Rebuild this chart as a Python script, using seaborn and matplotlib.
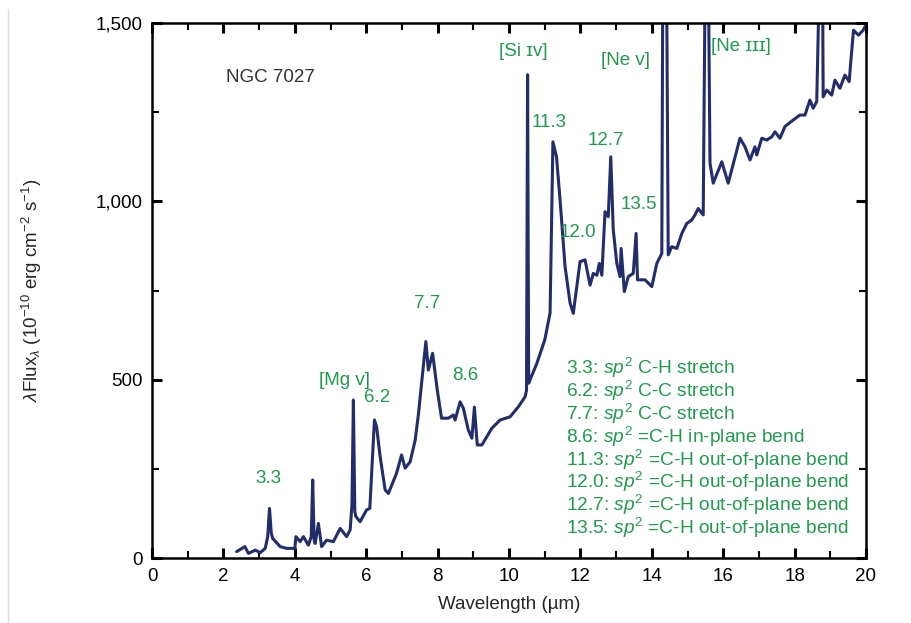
import numpy as np
import pandas as pd
import matplotlib.pyplot as plt
import seaborn as sns
from matplotlib.ticker import MultipleLocator, FuncFormatter

sns.set_theme(style="ticks")
plt.rcParams["font.family"] = ["Liberation Sans", "DejaVu Sans"]
plt.rcParams["mathtext.fontset"] = "custom"
plt.rcParams["mathtext.rm"] = "Liberation Sans"
plt.rcParams["mathtext.it"] = "Liberation Sans:italic"

# ── data: NGC 7027 spectrum ───────────────────────────────────────────────────
wavelength = [
    2.37, 2.6, 2.7, 2.89, 3.03, 3.17, 3.24, 3.29, 3.34, 3.38, 3.59, 3.77,
    4.0, 4.03, 4.15, 4.24, 4.38, 4.46, 4.5, 4.54, 4.57, 4.66, 4.75, 4.89,
    5.08, 5.27, 5.45, 5.55, 5.6, 5.64, 5.68, 5.71, 5.83, 6.01, 6.1, 6.23,
    6.29, 6.39, 6.53, 6.62, 6.85, 6.99, 7.09, 7.23, 7.37, 7.46, 7.67, 7.74,
    7.86, 7.99, 8.11, 8.3, 8.44, 8.49, 8.63, 8.72, 8.86, 8.96, 9.03, 9.11,
    9.24, 9.52, 9.75, 10.03, 10.26, 10.45, 10.49, 10.52, 10.55, 10.59, 10.78, 11.0,
    11.15, 11.23, 11.33, 11.43, 11.57, 11.71, 11.8, 11.99, 12.13, 12.27, 12.36, 12.46,
    12.53, 12.6, 12.69, 12.78, 12.85, 12.92, 13.02, 13.11, 13.14, 13.23, 13.34, 13.48,
    13.56, 13.6, 13.81, 14.0, 14.14, 14.28, 14.31, 14.41, 14.46, 14.56, 14.7, 14.84,
    14.98, 15.12, 15.21, 15.3, 15.44, 15.5, 15.58, 15.63, 15.72, 15.96, 16.14, 16.47,
    16.61, 16.75, 16.89, 16.94, 17.08, 17.22, 17.36, 17.45, 17.59, 17.73, 17.96, 18.15,
    18.29, 18.43, 18.52, 18.62, 18.71, 18.78, 18.8, 18.9, 19.04, 19.13, 19.27, 19.41,
    19.53, 19.57, 19.65, 19.79, 19.92, 20.0,
]
flux = [
    18, 32, 13, 22, 15, 27, 60, 139, 70, 55, 32, 27,
    27, 60, 46, 60, 36, 60, 219, 50, 41, 97, 32, 50,
    46, 83, 60, 79, 150, 443, 130, 116, 102, 135, 139, 387,
    368, 284, 191, 181, 238, 289, 252, 270, 330, 401, 607, 527,
    574, 471, 392, 392, 401, 387, 438, 420, 359, 336, 423, 317,
    317, 364, 387, 396, 424, 452, 470, 1355, 490, 500, 546, 611,
    687, 1167, 1125, 1004, 817, 715, 686, 831, 836, 765, 798, 793,
    826, 793, 971, 957, 1125, 920, 826, 789, 868, 747, 789, 798,
    910, 780, 780, 761, 826, 854, 1700, 1700, 850, 873, 868, 910,
    938, 948, 962, 980, 962, 1700, 1700, 1107, 1051, 1111, 1051, 1177,
    1153, 1116, 1153, 1130, 1177, 1172, 1181, 1195, 1177, 1210, 1228, 1242,
    1242, 1284, 1261, 1280, 1700, 1700, 1293, 1312, 1298, 1340, 1317, 1354,
    1336, 1387, 1480, 1466, 1480, 1495,
]

# feature labels on the spectrum
feat_labels = ["3.3", "[Mg v]", "6.2", "7.7", "8.6", "[Si \u026a\u1d20]", "11.3",
               "12.0", "12.7", "13.5", "[Ne v]", "[Ne \u026a\u026a\u026a]"]
feat_x = [3.25, 5.4, 6.3, 7.7, 8.77, 10.39, 11.12, 11.93, 12.72, 13.64, 13.25, 16.5]
feat_y = [224, 499, 449, 715, 513, 1419, 1220, 914, 1172, 990, 1396, 1433]

# band assignments
assign_band = ["3.3", "6.2", "7.7", "8.6", "11.3", "12.0", "12.7", "13.5"]
assign_text = ["C-H stretch", "C-C stretch", "C-C stretch", "=C-H in-plane bend",
               "=C-H out-of-plane bend", "=C-H out-of-plane bend",
               "=C-H out-of-plane bend", "=C-H out-of-plane bend"]

GREEN = "#22994f"
NAVY = "#222d6b"

df = pd.DataFrame({"wavelength": wavelength, "flux": flux})

fig = plt.figure(figsize=(9.11, 6.23), dpi=100)
ax = fig.add_axes([0.1669, 0.1043, 0.7837, 0.8587])

sns.lineplot(data=df, x="wavelength", y="flux", ax=ax, color=NAVY, lw=2.2,
             sort=False, estimator=None)

ax.set_xlim(0, 20)
ax.set_ylim(0, 1500)
ax.xaxis.set_major_locator(MultipleLocator(2))
ax.xaxis.set_minor_locator(MultipleLocator(1))
ax.yaxis.set_major_locator(MultipleLocator(500))
ax.yaxis.set_minor_locator(MultipleLocator(250))
ax.yaxis.set_major_formatter(FuncFormatter(lambda v, p: f"{int(v):,}"))
ax.tick_params(which="both", direction="in", top=True, right=True,
               labelsize=13.5, colors="black", width=1.5, pad=7)
ax.tick_params(which="major", length=7, width=2.2)
ax.tick_params(which="minor", length=5)
for s in ax.spines.values():
    s.set_linewidth(1.8)
    s.set_color("black")

ax.set_xlabel("Wavelength (\u00b5m)", fontsize=13.5, labelpad=8)
ax.set_ylabel(r"$\lambda$Flux$_\lambda$ (10$^{-10}$ erg cm$^{-2}$ s$^{-1}$)",
              fontsize=13.5, labelpad=37)

ax.text(2.07, 1348, "NGC 7027", fontsize=13.5, color="#333333", va="center")

for lab, x, y in zip(feat_labels, feat_x, feat_y):
    ax.text(x, y, lab, color=GREEN, fontsize=13.5, ha="center", va="center")

for i, (band, txt) in enumerate(zip(assign_band, assign_text)):
    ax.text(11.6, 533 - i * 64.2, rf"{band}: $\mathit{{sp}}^2$ {txt}",
            color=GREEN, fontsize=13.8, ha="left", va="center")

# faint page edge on the left of the scan
fig.add_artist(plt.Line2D([0.009, 0.009], [0.0, 0.985], color="#dddddd", lw=1))

fig.savefig("out.png", dpi=100)
